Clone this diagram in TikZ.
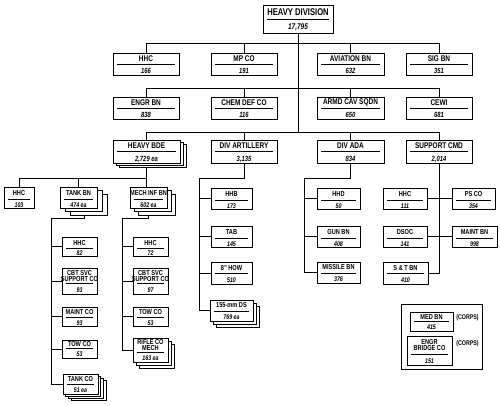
\documentclass[tikz,border=0pt]{standalone}
\usepackage{fontspec}
\setmainfont{Liberation Sans}[FakeStretch=0.78]
\usetikzlibrary{calc}
\pgfdeclarelayer{back}
\pgfdeclarelayer{bg}
\pgfsetlayers{back,bg,main}
\tikzset{
  unit/.style={draw=black, line width=0.8pt, fill=white, inner sep=0pt, outer sep=0pt, rectangle},
  shd/.style={draw=black, line width=0.8pt, fill=white},
  ttl/.style={font=\fontsize{8.3}{8.3}\selectfont\bfseries, align=center, inner sep=0pt},
  num/.style={font=\fontsize{7.5}{7.5}\selectfont\bfseries\itshape, inner sep=0pt, text height=0.7em, text depth=0pt},
  rul/.style={line width=1pt},
  conn/.style={line width=0.8pt},
  corps/.style={font=\fontsize{6.8}{6.8}\selectfont\bfseries, inner sep=0pt},
}
% name x1 y1 x2 y2 ruleY title number
\newcommand\ubox[8]{%
  \pgfmathsetmacro\bw{#4-#2}%
  \pgfmathsetmacro\bh{#5-#3}%
  \node[unit, minimum width=\bw pt, minimum height=\bh pt, anchor=north west] (#1) at (#2,#3) {};
  \node[ttl] at ({(#2+#4)/2},{(#3+#6)/2}) {#7};
  \draw[rul] ({#2+4},#6) -- ({#4-4},#6);
  \node[num] at ({(#2+#4)/2},{(#6+#5)/2}) {#8};
}
% x1 y1 x2 y2 n dx dy
\newcommand\shadows[7]{%
  \foreach \k in {#5,...,1} {\path[shd] ({#1+\k*#6},{#2+\k*#7}) rectangle ({#3+\k*#6},{#4+\k*#7});}
}
\begin{document}
\begin{tikzpicture}[x=1pt,y=-1pt]
\useasboundingbox (0,0) rectangle (500,406);
\begin{pgfonlayer}{back}
\fill[white] (0,0) rectangle (500,406);
\end{pgfonlayer}

% top
\begin{scope}[ttl/.append style={font=\fontsize{9.8}{9.8}\selectfont\bfseries},
              num/.append style={font=\fontsize{8.3}{8.3}\selectfont\bfseries\itshape}]
\ubox{div}{263}{5}{333}{33}{20}{HEAVY DIVISION}{17,795}
\end{scope}

% row 1
\ubox{hhc1}{113}{53}{179}{75}{64.3}{HHC}{166}
\ubox{mp}{211}{53}{277}{75}{64.3}{MP CO}{191}
\ubox{avn}{317}{53}{384}{75}{64.3}{AVIATION BN}{632}
\ubox{sig}{406}{53}{472}{75}{64.3}{SIG BN}{351}
% row 2
\ubox{engr}{113}{97}{179}{119}{108.3}{ENGR BN}{838}
\ubox{chem}{211}{97}{277}{119}{108.3}{CHEM DEF CO}{116}
\ubox{cav}{317}{97}{384}{119}{108.3}{ARMD CAV SQDN}{650}
\ubox{cewi}{406}{97}{472}{119}{108.3}{CEWI}{681}
% row 3
\shadows{113}{140}{180}{163}{2}{3}{2}
\ubox{hbde}{113}{140}{180}{163}{152}{HEAVY BDE}{2,729 ea}
\ubox{divarty}{211}{140}{277}{163}{152}{DIV ARTILLERY}{3,135}
\ubox{ada}{317}{140}{384}{163}{152}{DIV ADA}{834}
\ubox{spt}{406}{140}{472}{163}{152}{SUPPORT CMD}{2,014}

\begin{scope}[ttl/.append style={font=\fontsize{7.2}{6.2}\selectfont\bfseries},
              num/.append style={font=\fontsize{6.8}{6.8}\selectfont\bfseries\itshape}]
% row 4
\ubox{hhc4}{4}{187}{34}{208}{199}{HHC}{103}
\shadows{60}{187}{97}{208}{2}{5}{3.5}
\ubox{tankbn}{60}{187}{97}{208}{199}{TANK BN}{474 ea}
\shadows{130}{187}{167}{208}{2}{4}{3.5}
\ubox{mechinf}{130}{187}{167}{208}{199}{MECH INF BN}{602 ea}
% tank bn children
\ubox{tkhhc}{62}{237}{97}{256}{248.5}{HHC}{82}
\ubox{tkcbt}{62}{268}{97}{294}{283.3}{CBT SVC\\SUPPORT CO}{93}
\ubox{tkmaint}{62}{307}{97}{326}{317}{MAINT CO}{93}
\ubox{tktow}{62}{340}{97}{358}{348.5}{TOW CO}{53}
\shadows{63}{374}{98}{394}{3}{2.7}{2}
\ubox{tktank}{63}{374}{98}{394}{384}{TANK CO}{51 ea}
% mech inf children
\ubox{mhhc}{133}{237}{168}{256}{248.5}{HHC}{72}
\ubox{mcbt}{133}{268}{168}{294}{283.3}{CBT SVC\\SUPPORT CO}{97}
\ubox{mtow}{133}{307}{168}{326}{317}{TOW CO}{53}
\shadows{133}{338}{168}{362}{2}{3}{3}
\ubox{rifle}{133}{338}{168}{362}{352.5}{RIFLE CO\\MECH}{163 ea}
% artillery children
\ubox{hhb}{211}{188}{252}{209}{200}{HHB}{173}
\ubox{tab}{211}{226}{252}{247}{238}{TAB}{145}
\ubox{how}{211}{262}{252}{284}{273.3}{8" HOW}{510}
\shadows{210}{300}{253}{321}{2}{3}{3}
\ubox{ds}{210}{300}{253}{321}{311}{155-mm DS}{769 ea}
% ada children
\ubox{hhd}{317}{188}{360}{209}{200}{HHD}{50}
\ubox{gun}{317}{226}{360}{247}{238}{GUN BN}{408}
\ubox{missile}{317}{262}{360}{283}{273}{MISSILE BN}{376}
% support children
\ubox{hhc5}{383}{188}{427}{209}{200}{HHC}{111}
\ubox{ps}{452}{188}{495}{209}{200}{PS CO}{354}
\ubox{dsoc}{383}{226}{427}{247}{238}{DSOC}{141}
\ubox{maint}{452}{226}{497}{247}{238}{MAINT BN}{998}
\ubox{st}{383}{262}{428}{284}{273.3}{S \& T BN}{410}
% corps
\node[unit, minimum width=81pt, minimum height=65pt, anchor=north west, fill=none] (corpsbox) at (401,304) {};
\ubox{med}{410}{312}{453}{331}{321.5}{MED BN}{415}
\ubox{bridge}{407}{336}{452}{365}{354.3}{ENGR\\BRIDGE CO}{151}
\end{scope}
\node[corps] (c1) at (467.5,318) {(CORPS)};
\node[corps] (c2) at (467.5,344) {(CORPS)};

% connectors
\begin{pgfonlayer}{bg}
\coordinate (b1) at (298,43);
\coordinate (b2) at (298,88);
\coordinate (b3) at (298,132);
\draw[conn] (div.south) -- (b3);
\draw[conn] (hhc1.north) -- (hhc1.north |- b1) -- (sig.north |- b1) -- (sig.north);
\draw[conn] (mp.north) -- (mp.north |- b1);
\draw[conn] (avn.north) -- (avn.north |- b1);
\draw[conn] (engr.north) -- (engr.north |- b2) -- (cewi.north |- b2) -- (cewi.north);
\draw[conn] (chem.north) -- (chem.north |- b2);
\draw[conn] (cav.north) -- (cav.north |- b2);
\draw[conn] (hbde.north) -- (hbde.north |- b3) -- (spt.north |- b3) -- (spt.north);
\draw[conn] (divarty.north) -- (divarty.north |- b3);
\draw[conn] (ada.north) -- (ada.north |- b3);
% heavy bde
\coordinate (b4) at (146,178);
\draw[conn] (hbde.south -| b4) -- (b4);
\draw[conn] (hhc4.north) -- (hhc4.north |- b4) -- (b4) -- (mechinf.north -| b4);
\draw[conn] (tankbn.north) -- (tankbn.north |- b4);
% tank bn
\coordinate (tk1) at (84,218);
\coordinate (tk2) at (51,218);
\draw[conn] (tankbn.center -| tk1) -- (tk1) -- (tk2) |- (tktank.west);
\draw[conn] (tk2 |- tkhhc.west) -- (tkhhc.west);
\draw[conn] (tk2 |- tkcbt.west) -- (tkcbt.west);
\draw[conn] (tk2 |- tkmaint.west) -- (tkmaint.west);
\draw[conn] (tk2 |- tktow.west) -- (tktow.west);
% mech inf
\coordinate (mi1) at (148,218);
\coordinate (mi2) at (122,218);
\draw[conn] (mechinf.center -| mi1) -- (mi1) -- (mi2) |- (rifle.west);
\draw[conn] (mi2 |- mhhc.west) -- (mhhc.west);
\draw[conn] (mi2 |- mcbt.west) -- (mcbt.west);
\draw[conn] (mi2 |- mtow.west) -- (mtow.west);
% artillery
\coordinate (a1) at (244,178);
\coordinate (a2) at (199,178);
\draw[conn] (divarty.south) -- (a1) -- (a2) |- (ds.west);
\draw[conn] (a2 |- hhb.west) -- (hhb.west);
\draw[conn] (a2 |- tab.west) -- (tab.west);
\draw[conn] (a2 |- how.west) -- (how.west);
% ada
\coordinate (d1) at (350.5,178);
\coordinate (d2) at (304,178);
\draw[conn] (ada.south) -- (d1) -- (d2) |- (missile.west);
\draw[conn] (d2 |- hhd.west) -- (hhd.west);
\draw[conn] (d2 |- gun.west) -- (gun.west);
% support
\draw[conn] (spt.south) |- (st.east);
\draw[conn] (hhc5.east) -- (ps.west);
\draw[conn] (dsoc.east) -- (maint.west);
\end{pgfonlayer}
\end{tikzpicture}
\end{document}
